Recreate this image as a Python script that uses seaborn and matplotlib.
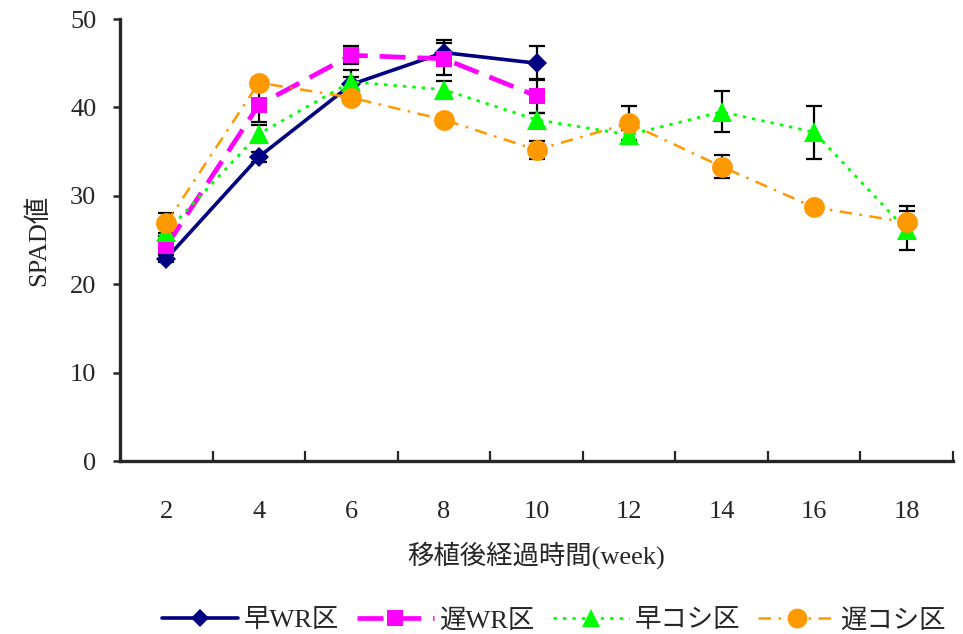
"""
SPAD value over weeks after transplanting, four plots.
"""

import numpy as np
import pandas as pd
import matplotlib
matplotlib.use("Agg")
import matplotlib.pyplot as plt
import seaborn as sns

# data
weeks = [2, 4, 6, 8, 10, 12, 14, 16, 18]
tick_labels = ["2", "4", "6", "8", "10", "12", "14", "16", "18"]

names = ["早WR区", "遅WR区", "早コシ区", "遅コシ区"]

early_wr = [22.9, 34.4, 42.6, 46.2, 45.0]
early_wr_err = [0.4, 0.6, 0.8, 1.4, 1.9]

late_wr = [24.3, 40.3, 45.9, 45.5, 41.3]
late_wr_err = [0.5, 2.0, 1.0, 1.8, 1.9]

early_koshi = [25.9, 37.0, 42.9, 42.0, 38.6, 36.9, 39.5, 37.2, 26.1]
early_koshi_err = [0.5, 1.0, 1.3, 1.0, 0.8, 0.6, 2.3, 3.0, 2.2]

late_koshi = [26.9, 42.8, 41.1, 38.6, 35.2, 38.2, 33.3, 28.7, 27.0]
late_koshi_err = [1.1, 0.5, 0.5, 0.5, 1.0, 2.0, 1.3, 0.3, 1.8]

# Styles
COLORS = ['#000080', '#FF00FF', '#00FF00', '#FF9900']
MARKERS = ['D', 's', '^', 'o']
MSIZES = [10, 12, 14, 15]
LWIDTHS = [2.6, 3.4, 2.0, 1.8]
LSTYLES = ['-', (0, (5.5, 2.5)), (0, (1.2, 2.2)), (0, (5, 3, 1, 3))]

sns.set_style('ticks')
plt.rcParams['font.family'] = ['Liberation Serif', 'Noto Sans CJK JP']
plt.rcParams['font.size'] = 18

fig, ax = plt.subplots(figsize=(9.63, 6.34), dpi=100)
fig.subplots_adjust(left=120 / 963, right=953 / 963, top=1 - 19 / 634, bottom=1 - 461 / 634)

series = [
    (early_wr, early_wr_err),
    (late_wr, late_wr_err),
    (early_koshi, early_koshi_err),
    (late_koshi, late_koshi_err),
]

for i, (vals, errs) in enumerate(series):
    x = weeks[:len(vals)]
    df = pd.DataFrame({'week': x, 'spad': vals})
    ax.errorbar(x, vals, yerr=errs, fmt='none', ecolor='black',
                elinewidth=1.6, capsize=6, capthick=1.6, zorder=1)
    sns.lineplot(data=df, x='week', y='spad', ax=ax, color=COLORS[i],
                 marker=MARKERS[i], markersize=MSIZES[i],
                 markeredgecolor=COLORS[i], markeredgewidth=0,
                 linewidth=LWIDTHS[i], linestyle=LSTYLES[i],
                 label=names[i], zorder=3 + i)

# axes
ax.set_xlim(1, 19)
ax.set_ylim(0, 50)
ax.set_xticks(weeks)
ax.set_xticklabels(tick_labels)
ax.set_xticks(np.arange(3, 20, 2), minor=True)
ax.tick_params(axis='x', which='major', length=0, pad=29, labelsize=19)
ax.tick_params(axis='x', which='minor', direction='in', length=7, width=1.6)
ax.set_yticks(range(0, 51, 10))
ax.tick_params(axis='y', direction='out', length=5, width=1.8, pad=12, labelsize=19)

sns.despine(ax=ax)
for side in ['left', 'bottom']:
    ax.spines[side].set_linewidth(2.4)

ax.set_xlabel('移植後経過時間(week)', fontsize=19, labelpad=13)
ax.set_ylabel('SPAD値', fontsize=19, labelpad=14)

if ax.legend_:
    ax.legend_.remove()
handles, labels = ax.get_legend_handles_labels()
fig.legend(handles, labels, loc='lower center', bbox_to_anchor=(0.575, -0.035),
           ncol=4, frameon=False, fontsize=19, handlelength=2.9,
           handletextpad=0.2, columnspacing=0.7, markerscale=0.95)

fig.savefig('out.png', dpi=100)
